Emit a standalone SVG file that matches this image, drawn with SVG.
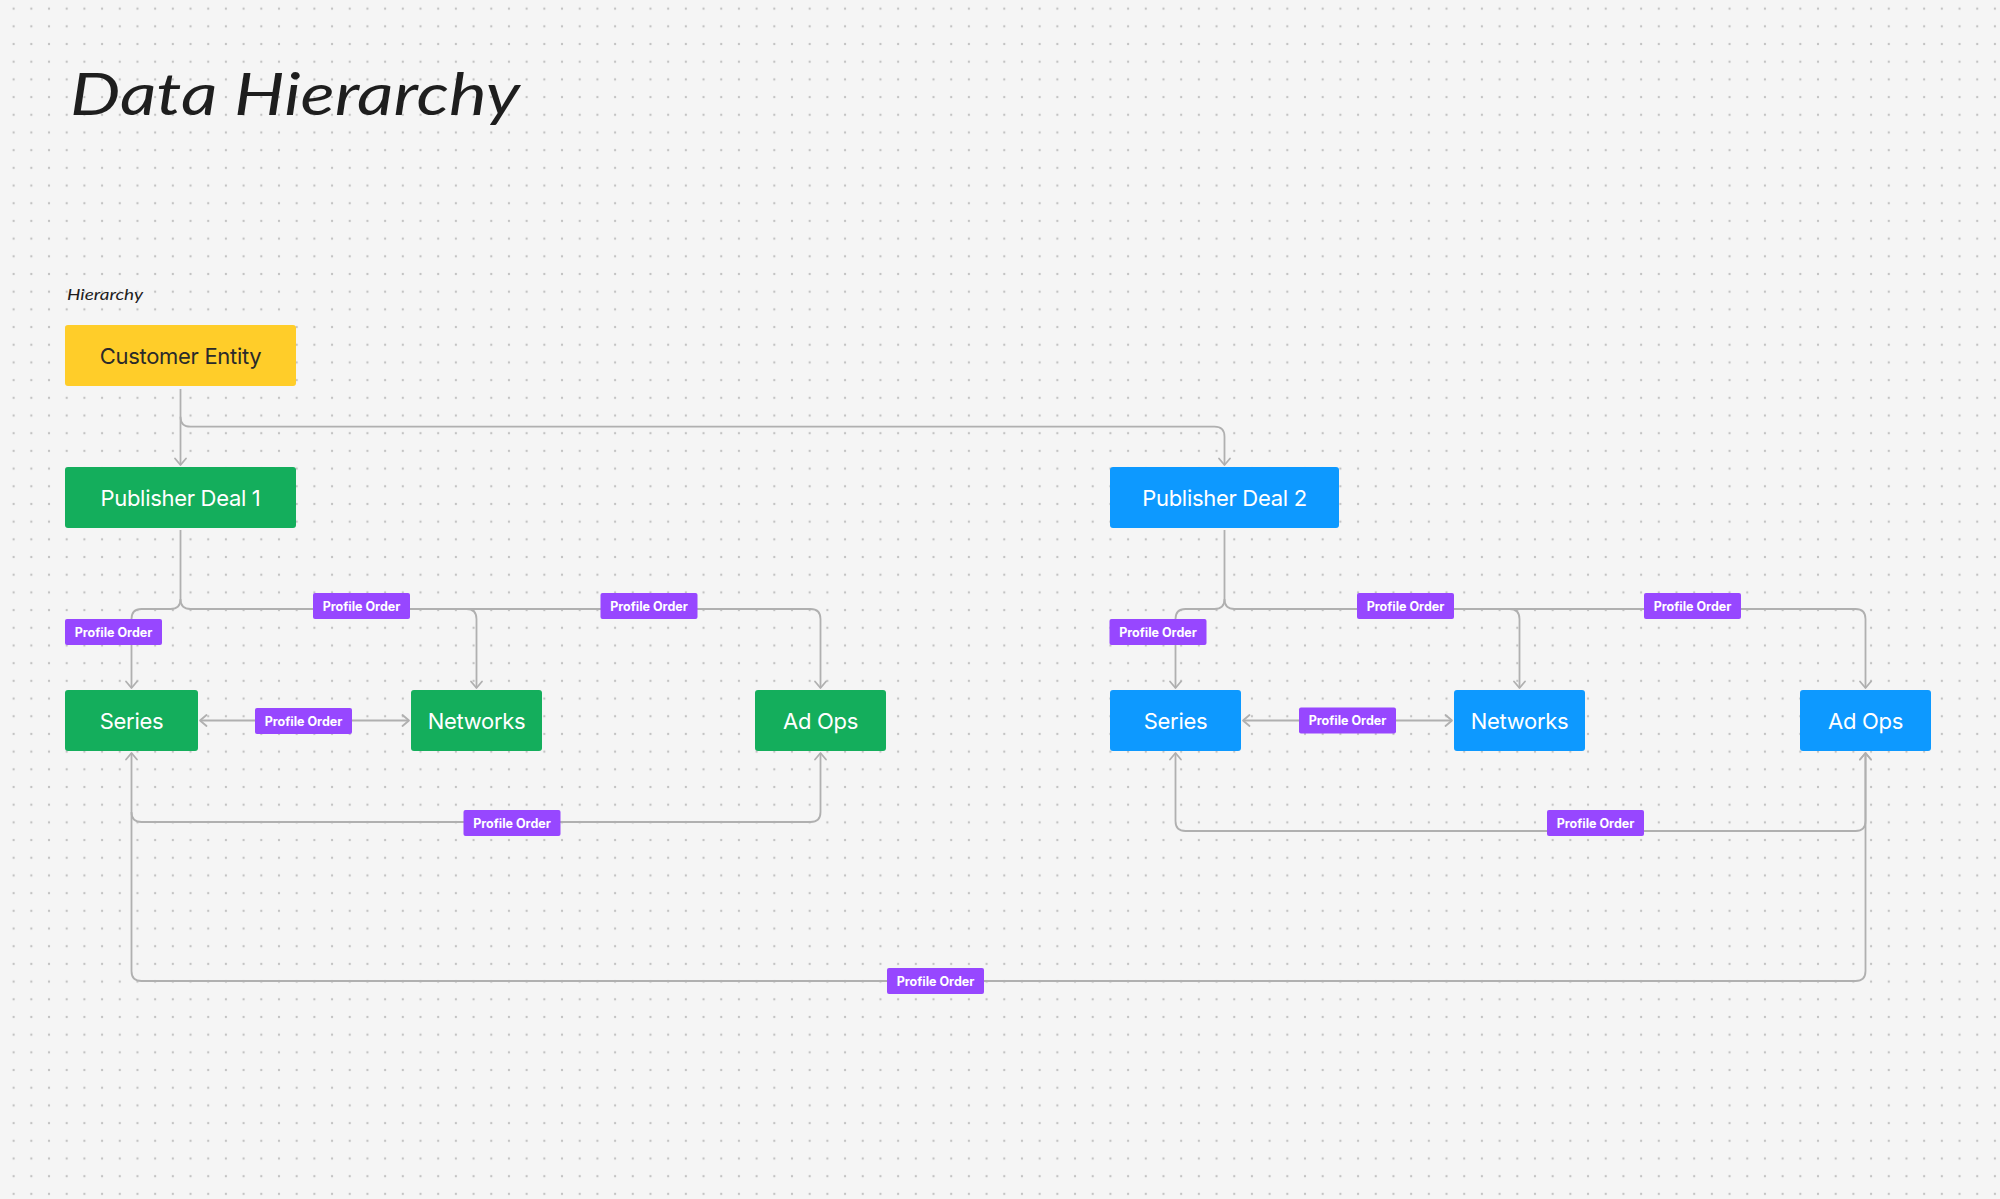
<svg xmlns="http://www.w3.org/2000/svg" width="2000" height="1199" viewBox="0 0 2000 1199">
<defs>
<pattern id="dots" x="4.785" y="-0.215" width="17.69" height="17.69" patternUnits="userSpaceOnUse">
<circle cx="8.845" cy="8.845" r="1.15" fill="#c2c2c2"/>
</pattern>
<marker id="arr" viewBox="-10 -8 12 16" refX="0" refY="0" markerWidth="12" markerHeight="16" markerUnits="userSpaceOnUse" orient="auto-start-reverse">
<path d="M-6.5,-5.5 L0,0 L-6.5,5.5" fill="none" stroke="#b0b0b0" stroke-width="1.8" stroke-linecap="round" stroke-linejoin="round"/>
</marker>
<style>
.node text{font-family:Inter,"Liberation Sans",sans-serif;font-size:22px;letter-spacing:-0.3px;text-anchor:middle;dominant-baseline:central}
.wt{fill:#ffffff}
.lbl rect{fill:#9747ff}
.lbl text{font-family:Inter,"Liberation Sans",sans-serif;font-size:12.5px;font-weight:700;fill:#ffffff;text-anchor:middle;dominant-baseline:central}
.conn path{fill:none;stroke:#b0b0b0;stroke-width:1.8}
</style>
</defs>
<rect x="0" y="0" width="2000" height="1199" fill="#f5f5f5"/>
<rect x="0" y="0" width="2000" height="1199" fill="url(#dots)"/>

<text x="70" y="115" font-family="Lato,'Liberation Sans',sans-serif" font-style="italic" font-weight="400" font-size="58" fill="#1e1e1e" textLength="450" lengthAdjust="spacingAndGlyphs">Data Hierarchy</text>
<text x="67" y="300" font-family="Lato,'Liberation Sans',sans-serif" font-style="italic" font-size="15" fill="#1e1e1e" textLength="76" lengthAdjust="spacingAndGlyphs">Hierarchy</text>

<g id="connectors" class="conn">
<path d="M180.5,389 V465" marker-end="url(#arr)"/>
<path d="M180.5,416.7 Q180.5,426.7 190.5,426.7 H1214.5 Q1224.5,426.7 1224.5,436.7 V465" marker-end="url(#arr)"/>
<path d="M180.5,530 V599 Q180.5,609 170.5,609 H141.5 Q131.5,609 131.5,619 V688" marker-end="url(#arr)"/>
<path d="M180.5,599 Q180.5,609 190.5,609 H466.5 Q476.5,609 476.5,619 V688" marker-end="url(#arr)"/>
<path d="M466.5,609 H810.5 Q820.5,609 820.5,619 V688" marker-end="url(#arr)"/>
<path d="M200,720.5 H409" marker-start="url(#arr)" marker-end="url(#arr)"/>
<path d="M131.5,753 V812 Q131.5,822 141.5,822 H810.5 Q820.5,822 820.5,812 V753" marker-start="url(#arr)" marker-end="url(#arr)"/>
<path d="M131.5,812 V971 Q131.5,981 141.5,981 H1855.5 Q1865.5,981 1865.5,971 V753" marker-end="url(#arr)"/>
<path d="M1224.5,530 V599 Q1224.5,609 1214.5,609 H1185.5 Q1175.5,609 1175.5,619 V688" marker-end="url(#arr)"/>
<path d="M1224.5,599 Q1224.5,609 1234.5,609 H1509.5 Q1519.5,609 1519.5,619 V688" marker-end="url(#arr)"/>
<path d="M1509.5,609 H1855.5 Q1865.5,609 1865.5,619 V688" marker-end="url(#arr)"/>
<path d="M1243,720.5 H1452" marker-start="url(#arr)" marker-end="url(#arr)"/>
<path d="M1175.5,753 V821 Q1175.5,831 1185.5,831 H1855.5 Q1865.5,831 1865.5,821 V753" marker-start="url(#arr)" marker-end="url(#arr)"/>
</g>

<g id="labels">
<g class="lbl"><rect x="65" y="619" width="97" height="26" rx="2"/><text x="113.5" y="632">Profile Order</text></g>
<g class="lbl"><rect x="313" y="593" width="97" height="26" rx="2"/><text x="361.5" y="606">Profile Order</text></g>
<g class="lbl"><rect x="600.5" y="593" width="97" height="26" rx="2"/><text x="649" y="606">Profile Order</text></g>
<g class="lbl"><rect x="255" y="708" width="97" height="26" rx="2"/><text x="303.5" y="721">Profile Order</text></g>
<g class="lbl"><rect x="463.5" y="810" width="97" height="26" rx="2"/><text x="512" y="823">Profile Order</text></g>
<g class="lbl"><rect x="887" y="968" width="97" height="26" rx="2"/><text x="935.5" y="981">Profile Order</text></g>
<g class="lbl"><rect x="1109.5" y="619" width="97" height="26" rx="2"/><text x="1158" y="632">Profile Order</text></g>
<g class="lbl"><rect x="1357" y="593" width="97" height="26" rx="2"/><text x="1405.5" y="606">Profile Order</text></g>
<g class="lbl"><rect x="1644" y="593" width="97" height="26" rx="2"/><text x="1692.5" y="606">Profile Order</text></g>
<g class="lbl"><rect x="1299" y="707.5" width="97" height="26" rx="2"/><text x="1347.5" y="720.5">Profile Order</text></g>
<g class="lbl"><rect x="1547" y="810" width="97" height="26" rx="2"/><text x="1595.5" y="823">Profile Order</text></g>
</g>

<g id="customer-entity" class="node"><rect x="65" y="325" width="231" height="61" rx="3" fill="#ffcd29"/><text x="180.5" y="356" fill="#2a2a2a">Customer Entity</text></g>
<g id="publisher-deal-1" class="node"><rect x="65" y="467" width="231" height="61" rx="3" fill="#14ae5c"/><text x="180.5" y="498" class="wt">Publisher Deal 1</text></g>
<g id="publisher-deal-2" class="node"><rect x="1110" y="467" width="229" height="61" rx="3" fill="#0d99ff"/><text x="1224.5" y="498" class="wt">Publisher Deal 2</text></g>
<g id="series-1" class="node"><rect x="65" y="690" width="133" height="61" rx="3" fill="#14ae5c"/><text x="131.5" y="721" class="wt">Series</text></g>
<g id="networks-1" class="node"><rect x="411" y="690" width="131" height="61" rx="3" fill="#14ae5c"/><text x="476.5" y="721" class="wt">Networks</text></g>
<g id="adops-1" class="node"><rect x="755" y="690" width="131" height="61" rx="3" fill="#14ae5c"/><text x="820.5" y="721" class="wt">Ad Ops</text></g>
<g id="series-2" class="node"><rect x="1110" y="690" width="131" height="61" rx="3" fill="#0d99ff"/><text x="1175.5" y="721" class="wt">Series</text></g>
<g id="networks-2" class="node"><rect x="1454" y="690" width="131" height="61" rx="3" fill="#0d99ff"/><text x="1519.5" y="721" class="wt">Networks</text></g>
<g id="adops-2" class="node"><rect x="1800" y="690" width="131" height="61" rx="3" fill="#0d99ff"/><text x="1865.5" y="721" class="wt">Ad Ops</text></g>
</svg>
